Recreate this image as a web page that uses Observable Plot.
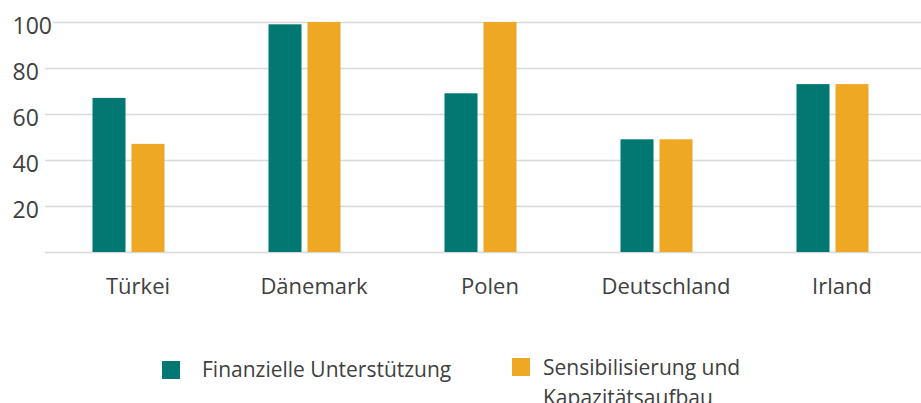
<!DOCTYPE html>
<html><head><meta charset="utf-8">
<script src="https://cdn.jsdelivr.net/npm/d3@7"></script>
<script src="https://cdn.jsdelivr.net/npm/@observablehq/plot@0.6"></script>
<style>
body{margin:0;background:#fff;}
#wrap{position:relative;width:921px;height:403px;overflow:hidden;font-family:"Open Sans",sans-serif;color:#404040;}
.sw{position:absolute;width:18px;height:18px;}
.lt{position:absolute;font-size:21px;line-height:30px;}
</style></head>
<body><div id="wrap"><div id="chart"></div><div id="legend"></div></div>
<script>
const countries = ["Türkei","Dänemark","Polen","Deutschland","Irland"];
const seriesNames = ["Finanzielle Unterstützung","Sensibilisierung und Kapazitätsaufbau"];
const finanzielle = [67,99,69,49,73];
const sensibilisierung = [47,100,100,49,73];
const yTicks = [20,40,60,80,100];
const colors = ["#037872","#EEA823"];

const data = countries.flatMap((c,i)=>[
  {country:c, series:seriesNames[0], value:finanzielle[i]},
  {country:c, series:seriesNames[1], value:sensibilisierung[i]}
]);

const plot = Plot.plot({
  width:921, height:300, marginLeft:40, marginRight:0, marginTop:22, marginBottom:48,
  style:{fontFamily:"Open Sans", fontSize:"22px", color:"#404040", background:"white", overflow:"visible"},
  x:{domain:countries, paddingInner:0.8127, paddingOuter:0.40635, label:null},
  y:{domain:[0,100], label:null, axis:null},
  marks:[
    Plot.ruleY([0, ...yTicks], {stroke:"#d9d9d9", strokeWidth:1.3, insetLeft:5}),
    Plot.barY(data.filter(d=>d.series===seriesNames[0]), {x:"country", y:"value", fill:colors[0], dx:-19.5}),
    Plot.barY(data.filter(d=>d.series===seriesNames[1]), {x:"country", y:"value", fill:colors[1], dx:19.5}),
    Plot.text(yTicks, {y:d=>d, text:d=>String(d), frameAnchor:"left", textAnchor:"start", dx:-28, dy:4, fill:"#404040", stroke:"white", strokeWidth:4, fontSize:23}),
    Plot.axisX({tickSize:0, tickPadding:26, dx:9, fill:"#404040", fontSize:22, label:null})
  ]
});
document.getElementById("chart").appendChild(plot);

const legend = document.getElementById("legend");
const pos = [
  {sw:[162,361], tx:[202,354], w:null},
  {sw:[512,358], tx:[543,352], w:240}
];
seriesNames.forEach((name,i)=>{
  const s = document.createElement("div");
  s.className="sw"; s.style.left=pos[i].sw[0]+"px"; s.style.top=pos[i].sw[1]+"px"; s.style.background=colors[i];
  const t = document.createElement("div");
  t.className="lt"; t.style.left=pos[i].tx[0]+"px"; t.style.top=pos[i].tx[1]+"px"; t.textContent=name;
  if (pos[i].w) t.style.width=pos[i].w+"px"; else t.style.whiteSpace="nowrap";
  legend.appendChild(s); legend.appendChild(t);
});
</script>
</body></html>
